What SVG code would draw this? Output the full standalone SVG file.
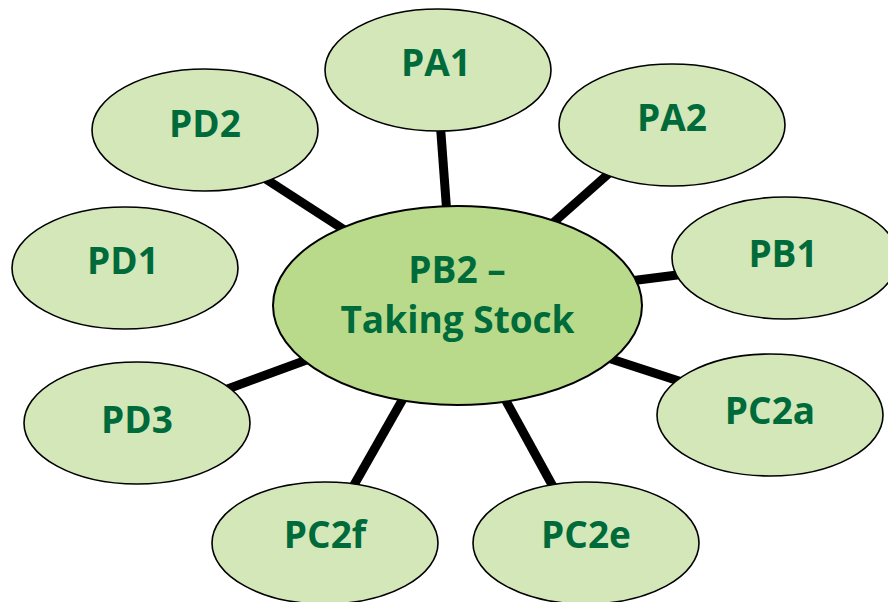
<svg xmlns="http://www.w3.org/2000/svg" width="888" height="602" viewBox="0 0 888 602">
<style>
.n{fill:#d4e7b9;stroke:#000;stroke-width:1.6}
.c{fill:#b9da8a;stroke:#000;stroke-width:2}
.t{font-family:"Open Sans","Liberation Sans",sans-serif;font-weight:700;font-size:37px;fill:#006b3a;text-anchor:middle}
.e{stroke:#000;stroke-width:9;stroke-linecap:butt}
</style>
<rect width="888" height="602" fill="#fff"/>
<g id="connectors">
<line class="e" x1="258" y1="174" x2="360" y2="240"/>
<line class="e" x1="440" y1="120" x2="447" y2="215"/>
<line class="e" x1="615" y1="168" x2="545" y2="230"/>
<line class="e" x1="630" y1="281" x2="685" y2="274"/>
<line class="e" x1="222" y1="391" x2="312" y2="358"/>
<line class="e" x1="408" y1="390" x2="350" y2="492"/>
<line class="e" x1="605" y1="357" x2="685" y2="383"/>
<line class="e" x1="500" y1="390" x2="556" y2="492"/>
</g>
<g id="PA1"><ellipse class="n" cx="438" cy="70" rx="113" ry="61"/><text class="t" x="436" y="76">PA1</text></g>
<g id="PA2"><ellipse class="n" cx="672" cy="125" rx="113" ry="61"/><text class="t" x="672" y="131">PA2</text></g>
<g id="PD2"><ellipse class="n" cx="205" cy="130" rx="113" ry="61"/><text class="t" x="205" y="137">PD2</text></g>
<g id="PD1"><ellipse class="n" cx="125" cy="268" rx="113" ry="61"/><text class="t" x="123" y="274">PD1</text></g>
<g id="PB1"><ellipse class="n" cx="785" cy="258" rx="113" ry="61"/><text class="t" x="783" y="267">PB1</text></g>
<g id="PD3"><ellipse class="n" cx="137" cy="423" rx="113" ry="61"/><text class="t" x="137" y="433">PD3</text></g>
<g id="PC2a"><ellipse class="n" cx="770" cy="415" rx="113" ry="61"/><text class="t" x="770" y="424">PC2a</text></g>
<g id="PC2f"><ellipse class="n" cx="325" cy="543" rx="113" ry="61"/><text class="t" x="325" y="548">PC2f</text></g>
<g id="PC2e"><ellipse class="n" cx="586" cy="543" rx="113" ry="61"/><text class="t" x="586" y="548">PC2e</text></g>
<g id="PB2"><ellipse class="c" cx="457.5" cy="305.5" rx="184.5" ry="99.5"/><text class="t" x="457" y="283">PB2 –</text><text class="t" x="457.5" y="333">Taking Stock</text></g>
</svg>
